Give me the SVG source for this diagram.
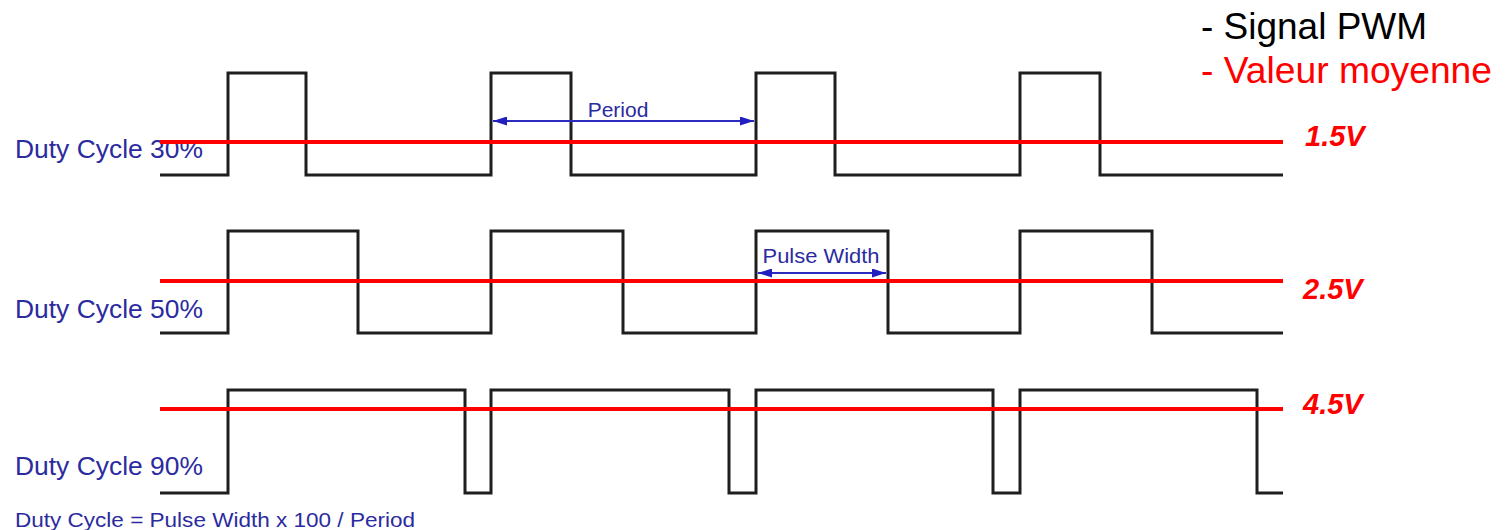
<svg xmlns="http://www.w3.org/2000/svg" width="1506" height="530" viewBox="0 0 1506 530">
<style>
.wave{fill:none;stroke:#1e1e1e;stroke-width:3;stroke-linejoin:miter}
.avg{stroke:#ff0000;stroke-width:4}
.lbl{font-family:"Liberation Sans",Arial,sans-serif;fill:#2b2ba0;font-size:25px}
.dim{stroke:#2b2bc0;stroke-width:2}
.dimt{font-family:"Liberation Sans",Arial,sans-serif;fill:#2b2ba0;font-size:21px}
.volt{font-family:"Liberation Sans",Arial,sans-serif;fill:#ff0000;font-size:29px;font-weight:bold;font-style:italic}
.leg{font-family:"Liberation Sans",Arial,sans-serif;font-size:36px}
</style>
<defs>
<marker id="ah" viewBox="0 0 14 9" refX="14" refY="4.5" markerWidth="14" markerHeight="9" markerUnits="userSpaceOnUse" orient="auto-start-reverse">
<path d="M0,0 L14,4.5 L0,9 Z" fill="#2020c0"/>
</marker>
</defs>
<rect width="1506" height="530" fill="#ffffff"/>
<g id="wave30">
<path class="wave" d="M160,175 H228 V73 H306 V175 H491 V73 H571 V175 H756 V73 H835 V175 H1020 V73 H1100 V175 H1283"/>
<text class="lbl" x="15" y="158" textLength="188" lengthAdjust="spacingAndGlyphs">Duty Cycle 30%</text>
</g>
<g id="wave50">
<path class="wave" d="M160,333 H228 V231 H358 V333 H491 V231 H623 V333 H756 V231 H888 V333 H1020 V231 H1152 V333 H1283"/>
<text class="lbl" x="15" y="318" textLength="188" lengthAdjust="spacingAndGlyphs">Duty Cycle 50%</text>
</g>
<g id="wave90">
<path class="wave" d="M160,493 H228 V390 H465 V493 H491 V390 H729 V493 H756 V390 H993 V493 H1020 V390 H1257 V493 H1283"/>
<text class="lbl" x="15" y="475" textLength="188" lengthAdjust="spacingAndGlyphs">Duty Cycle 90%</text>
</g>
<g id="formula">
<text class="lbl" x="15" y="527" style="font-size:21px" textLength="400" lengthAdjust="spacingAndGlyphs">Duty Cycle = Pulse Width x 100 / Period</text>
</g>
<g id="connectors">
<line class="dim" x1="493" y1="121" x2="754" y2="121" marker-start="url(#ah)" marker-end="url(#ah)"/>
<line class="dim" x1="758" y1="273" x2="886" y2="273" marker-start="url(#ah)" marker-end="url(#ah)"/>
</g>
<g id="period-label">
<text class="dimt" x="618" y="117" text-anchor="middle">Period</text>
</g>
<g id="pulse-width-label">
<text class="dimt" x="821" y="263" text-anchor="middle" style="font-size:20px" textLength="117" lengthAdjust="spacingAndGlyphs">Pulse Width</text>
</g>
<g id="averages">
<line class="avg" x1="160" y1="142" x2="1283" y2="142"/>
<line class="avg" x1="160" y1="281" x2="1283" y2="281"/>
<line class="avg" x1="160" y1="409" x2="1283" y2="409"/>
<text class="volt" x="1305" y="146">1.5V</text>
<text class="volt" x="1303" y="299">2.5V</text>
<text class="volt" x="1303" y="414">4.5V</text>
</g>
<g id="legend">
<text class="leg" x="1201" y="39" fill="#000000" textLength="226" lengthAdjust="spacingAndGlyphs">- Signal PWM</text>
<text class="leg" x="1201" y="83" fill="#ff0000" textLength="291" lengthAdjust="spacingAndGlyphs">- Valeur moyenne</text>
</g>
</svg>
